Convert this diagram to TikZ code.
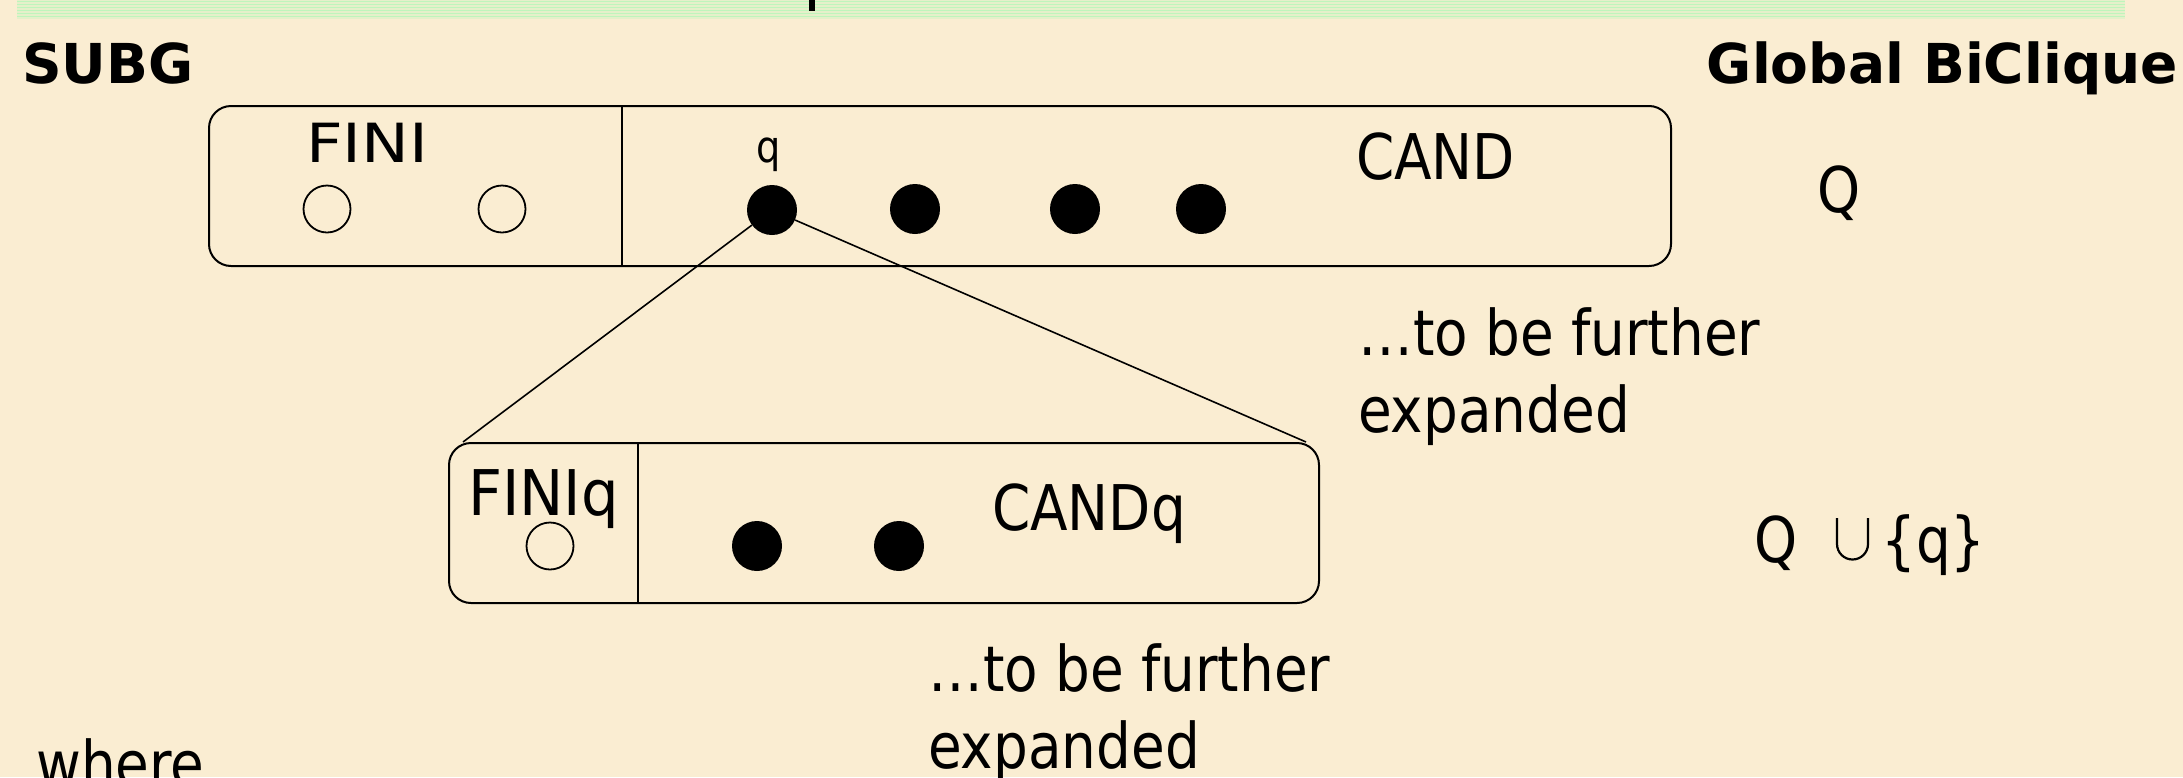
\documentclass[tikz,border=0pt]{standalone}
\usepackage{fontspec}
\usetikzlibrary{calc}
\newfontfamily\bodyfont{DejaVu Sans}[FakeStretch=0.87]
\newfontfamily\headfont{DejaVu Sans}
\definecolor{parchment}{HTML}{FAEDD2}
\definecolor{bandgreen}{HTML}{BFF5BC}
\tikzset{
  panel/.style={draw=black, line width=2pt, rounded corners=22pt, inner sep=0pt, anchor=north west},
  divider/.style={draw=black, line width=2pt},
  openvtx/.style={circle, draw=black, line width=1.8pt, minimum size=47pt, inner sep=0pt},
  fullvtx/.style={circle, fill=black, minimum size=50pt, inner sep=0pt},
  lbl/.style={inner sep=0pt, anchor=base west, font=\bodyfont\fontsize{63}{79}\selectfont, align=left},
  small/.style={inner sep=0pt, anchor=base west, font=\bodyfont\fontsize{54}{66}\selectfont},
  head/.style={inner sep=0pt, font=\headfont\bfseries\fontsize{55}{66}\selectfont},
  link/.style={draw=black, line width=1.6pt},
  cupstroke/.style={draw=black, line width=2.2pt},
}
\begin{document}
\begin{tikzpicture}[x=1pt, y=-1pt]
  % page and background
  \useasboundingbox (0,0) rectangle (2183,777);
  \clip (0,0) rectangle (2183,777);
  \fill[parchment] (0,0) rectangle (2183,777);

  % striped title band along the top edge
  \fill[bandgreen!35!parchment] (17,0) rectangle (2125,19);
  \foreach \yy in {1.5,4.5,...,18} {
    \draw[bandgreen, line width=1.3pt] (17,\yy) -- (2125,\yy);
  }
  \fill[black] (809,0) rectangle (815,11);

  % headings
  \node[head, anchor=base west] (subg) at (22,83) {SUBG};
  \node[head, anchor=base east] (glob) at (2178,83) {Global BiClique};

  % upper panel: FINI | CAND
  \node[panel, minimum width=1462pt, minimum height=160pt] (top) at (208,105) {};
  \coordinate (sepA) at (622,0);
  \draw[divider] (top.north -| sepA) -- (top.south -| sepA);
  \node[small] (fini) at (306,162) {\scalebox{1.36}[1]{FINI}};
  \node[openvtx] (f1) at (327,209) {};
  \node[openvtx] (f2) at (502,209) {};
  \node[inner sep=0pt, anchor=base, font=\bodyfont\fontsize{44}{52}\selectfont] (qlab) at (769,162) {q};
  \node[fullvtx] (v1) at (772,210) {};
  \node[fullvtx] (v2) at (915,209) {};
  \node[fullvtx] (v3) at (1075,209) {};
  \node[fullvtx] (v4) at (1201,209) {};
  \node[lbl] (cand) at (1356,179) {CAND};
  \node[lbl] (qset) at (1817,212) {Q};

  % lower panel: FINIq | CANDq
  \node[panel, minimum width=870pt, minimum height=160pt] (bot) at (448,442) {};
  \coordinate (sepB) at (638,0);
  \draw[divider] (bot.north -| sepB) -- (bot.south -| sepB);
  \node[lbl] (finiq) at (468,515) {\scalebox{1.08}[1]{FINIq}};
  \node[openvtx] (g1) at (550,546) {};
  \node[fullvtx] (w1) at (757,546) {};
  \node[fullvtx] (w2) at (899,546) {};
  \node[lbl] (candq) at (992,530) {CANDq};

  % Q extended by q: thin union sign between Q and {q}
  \node[lbl] (qnew) at (1754,562) {Q};
  \draw[cupstroke] (1837,518) -- (1837,544) arc[start angle=180, end angle=0, radius=15.5] -- (1868,518);
  \node[lbl] (qsing) at (1881,562) {\{q\}};

  % expansion of q into the lower panel
  \coordinate (botL) at ($(bot.north west)+(15,0)$);
  \coordinate (botR) at ($(bot.north east)+(-14,0)$);
  \draw[link] (v1) -- (botL);
  \draw[link] (v1) -- (botR);

  % notes (anchored at the baseline of their last line)
  \node[lbl] (note1) at (1358,432) {…to be further\\[-2pt]expanded};
  \node[lbl] (note2) at (928,768) {…to be further\\[-2pt]expanded};
  \node[lbl] (where) at (36,786) {where};
\end{tikzpicture}
\end{document}
